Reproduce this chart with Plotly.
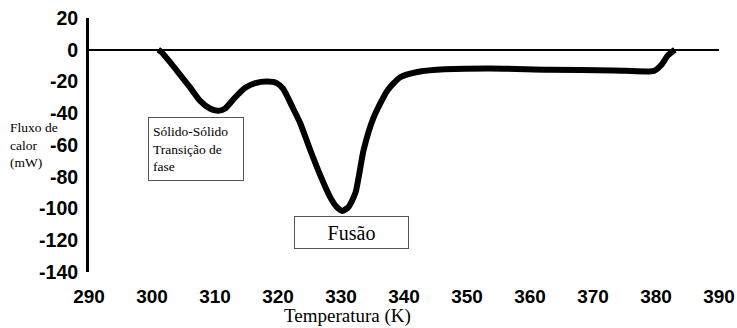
import plotly.graph_objects as go

# Data
temperature_K = [301.0, 301.5, 302.9, 304.5, 306.1, 307.6, 309.2, 310.5, 311.6, 313.2, 314.8,
                 316.4, 318.3, 319.8, 320.8, 322.4, 323.5, 325.1, 326.7, 328.3, 329.3, 330.2,
                 331.2, 332.3, 333.6, 335.2, 337.4, 339.4, 342.1, 345.8, 353.8, 362.8, 373.3,
                 379.7, 380.8, 381.9, 383.0]
heat_flow_mW = [0.0, -1.5, -8, -16, -24, -32, -37, -38.5, -37, -30, -24,
                -21, -20, -21, -24.5, -37, -46, -63, -79, -93, -99, -101.5,
                -99, -90, -63, -42.5, -25.5, -17.3, -14, -12.4, -11.8, -12.6, -13,
                -13.3, -9.8, -3.5, 0.0]

x_ticks = [290, 300, 310, 320, 330, 340, 350, 360, 370, 380, 390]
y_ticks = [20, 0, -20, -40, -60, -80, -100, -120, -140]

fig = go.Figure()
fig.add_trace(go.Scatter(x=temperature_K, y=heat_flow_mW, mode="lines",
                         line=dict(color="black", width=6, shape="spline", smoothing=0.6),
                         showlegend=False, hoverinfo="skip"))

fig.update_layout(
    width=737, height=328,
    margin=dict(l=89, r=18, t=18, b=56),
    paper_bgcolor="white", plot_bgcolor="white",
    xaxis=dict(range=[290, 390], tickvals=x_ticks, ticktext=[str(v) for v in x_ticks],
               showgrid=False, zeroline=False, showline=False, ticks="",
               automargin=False, ticklabelstandoff=11,
               tickfont=dict(family="Liberation Sans", size=19, color="black", weight="bold")),
    yaxis=dict(range=[-140, 20], tickvals=y_ticks, ticktext=[str(v) for v in y_ticks],
               showgrid=False, zeroline=True, zerolinecolor="black", zerolinewidth=2,
               showline=True, linecolor="black", linewidth=3, ticks="",
               automargin=False, ticklabelstandoff=4,
               tickfont=dict(family="Liberation Sans", size=19.5, color="black", weight="bold")),
)

fig.add_annotation(text="Fluxo de<br>calor<br>(mW)", xref="paper", yref="paper",
                   x=-0.128, y=0.50, xanchor="left", yanchor="middle", align="left",
                   showarrow=False,
                   font=dict(family="Liberation Serif", size=13.5, color="black"))
fig.add_annotation(text="Temperatura (K)", xref="paper", yref="paper",
                   x=0.41, y=-0.175, xanchor="center", yanchor="middle", showarrow=False,
                   font=dict(family="Liberation Serif", size=19, color="black"))
fig.add_annotation(text="Sólido-Sólido<br>Transição de<br>fase", x=307.0, y=-62.3,
                   xanchor="center", yanchor="middle", align="left", showarrow=False,
                   width=86, height=54, borderpad=4, bordercolor="#555", borderwidth=1,
                   bgcolor="white",
                   font=dict(family="Liberation Serif", size=13.5, color="black"))
fig.add_annotation(text="Fusão", x=331.7, y=-115,
                   xanchor="center", yanchor="middle", align="center", showarrow=False,
                   width=105, height=23, borderpad=4, bordercolor="#555", borderwidth=1,
                   bgcolor="white",
                   font=dict(family="Liberation Serif", size=20, color="black"))

fig.write_html("out.html", post_script="document.body.style.margin='0';",
               config={"displayModeBar": False})
